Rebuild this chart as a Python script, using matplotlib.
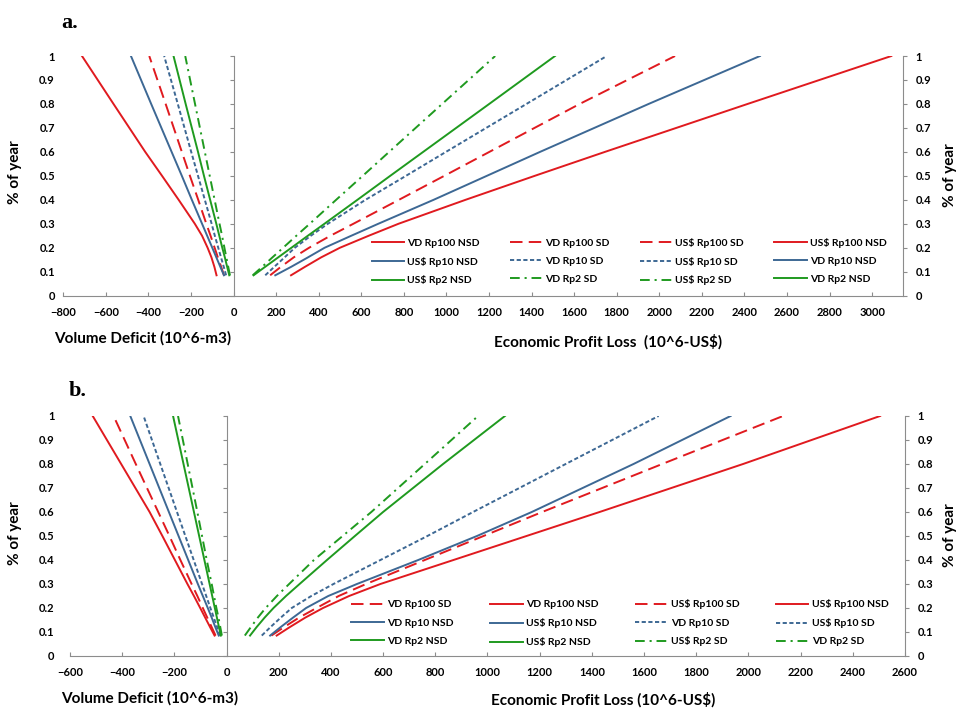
import matplotlib.pyplot as plt
from matplotlib.ticker import FuncFormatter

plt.rcParams['font.family'] = ['Lato', 'DejaVu Sans']
plt.rcParams['font.weight'] = 'bold'
plt.rcParams['lines.scale_dashes'] = False

# fraction of year (common y levels for every curve)
pct_year = [0.085, 0.12, 0.16, 0.2, 0.25, 0.3, 0.4, 0.5, 0.6, 0.8, 1.0]

# ---- panel a : volume deficit (10^6 m3), drawn negative
a_vd_rp100_nsd = [-80, -90, -104, -122, -148, -182, -258, -336, -415, -564, -712]
a_vd_rp100_sd = [-45, -58, -74, -89, -108, -128, -166, -205, -243, -319, -396]
a_vd_rp10_nsd = [-45, -62, -81, -100, -124, -148, -196, -243, -291, -387, -482]
a_vd_rp10_sd = [-35, -46, -59, -72, -88, -103, -135, -167, -199, -262, -326]
a_vd_rp2_nsd = [-20, -30, -41, -53, -67, -81, -110, -139, -167, -225, -282]
a_vd_rp2_sd = [-17, -25, -34, -43, -54, -66, -89, -112, -135, -181, -227]
# ---- panel a : economic profit loss (10^6 US$)
a_us_rp100_nsd = [270, 335, 412, 500, 635, 775, 1090, 1415, 1745, 2415, 3090]
a_us_rp100_sd = [172, 222, 283, 355, 455, 563, 777, 990, 1202, 1626, 2074]
a_us_rp10_nsd = [196, 270, 350, 428, 553, 680, 940, 1190, 1440, 1950, 2473]
a_us_rp10_sd = [149, 191, 240, 288, 363, 443, 620, 810, 998, 1376, 1753]
a_us_rp2_nsd = [94, 148, 210, 272, 349, 427, 582, 736, 891, 1201, 1510]
a_us_rp2_sd = [90, 134, 183, 233, 295, 358, 482, 607, 731, 980, 1229]

# ---- panel b : volume deficit
b_vd_rp100_nsd = [-46, -63, -82, -101, -125, -150, -198, -246, -295, -404, -513]
b_vd_rp100_sd = [-42, -57, -74, -91, -112, -134, -177, -219, -262, -348, -433]
b_vd_rp10_nsd = [-30, -43, -57, -72, -91, -110, -147, -184, -221, -295, -369]
b_vd_rp10_sd = [-25, -36, -49, -62, -78, -94, -126, -158, -190, -254, -318]
b_vd_rp2_nsd = [-22, -29, -37, -45, -55, -65, -85, -105, -125, -165, -205]
b_vd_rp2_sd = [-18, -24, -31, -39, -48, -57, -76, -94, -112, -149, -186]
# ---- panel b : economic profit loss
b_us_rp100_nsd = [192, 242, 302, 370, 470, 590, 870, 1150, 1430, 1980, 2505]
b_us_rp100_sd = [172, 220, 278, 345, 430, 535, 760, 985, 1210, 1670, 2133]
b_us_rp10_nsd = [167, 207, 255, 305, 390, 500, 735, 960, 1170, 1560, 1932]
b_us_rp10_sd = [135, 168, 208, 250, 325, 410, 590, 770, 945, 1300, 1656]
b_us_rp2_nsd = [90, 115, 146, 180, 228, 280, 385, 492, 600, 830, 1067]
b_us_rp2_sd = [70, 93, 120, 150, 193, 240, 335, 445, 555, 760, 964]

# legend layout, row by row as in the figure
a_legend_rows = [['VD Rp100 NSD', 'VD Rp100 SD', 'US$ Rp100 SD', 'US$ Rp100 NSD'],
                 ['US$ Rp10 NSD', 'VD Rp10 SD', 'US$ Rp10 SD', 'VD Rp10 NSD'],
                 ['US$ Rp2 NSD', 'VD Rp2 SD', 'US$ Rp2 SD', 'VD Rp2 NSD']]
b_legend_rows = [['VD Rp100 SD', 'VD Rp100 NSD', 'US$ Rp100 SD', 'US$ Rp100 NSD'],
                 ['VD Rp10 NSD', 'US$ Rp10 NSD', 'VD Rp10 SD', 'US$ Rp10 SD'],
                 ['VD Rp2 NSD', 'US$ Rp2 NSD', 'US$ Rp2 SD', 'VD Rp2 SD']]

RED = '#E01A1F'
BLUE = '#3D6894'
GREEN = '#1F9A1F'
AXC = '#8C8C8C'
colors = {'Rp100': RED, 'Rp10': BLUE, 'Rp2': GREEN}
styles = {'NSD': '-', 'SD100': (0, (9, 4.5)), 'SD10': (0, (3, 1.8)),
          'SD2': (0, (7, 3.5, 1.5, 3.5))}


def series_style(label):
    rp, sd = label.split()[1], label.split()[2]
    if sd == 'NSD':
        ls = styles['NSD']
    else:
        ls = styles['SD' + rp[2:]]
    return colors[rp], ls


def draw_panel(ax, data, legend_rows, xmin, xmax, xticks, ylab_pad, leg_anchor, colsp):
    handles = {}
    for label, xs in data.items():
        c, ls = series_style(label)
        ln, = ax.plot(xs, pct_year, color=c, linestyle=ls, lw=1.4)
        handles[label] = ln

    ax.set_xlim(xmin, xmax)
    ax.set_ylim(0, 1)
    ax.set_xticks(xticks)
    ax.set_yticks([i / 10 for i in range(11)])
    fmt = FuncFormatter(lambda v, p: f'{v:g}')
    ax.yaxis.set_major_formatter(fmt)
    for s in ['left', 'top', 'right']:
        ax.spines[s].set_visible(False)
    ax.spines['bottom'].set_color(AXC)
    ax.tick_params(axis='x', direction='in', length=3, color=AXC, pad=8,
                   labelsize=8)
    ax.tick_params(axis='y', length=0, pad=ylab_pad, labelsize=8)

    # vertical axis line at zero
    zero = ax.secondary_yaxis((0 - xmin) / (xmax - xmin))
    zero.set_yticks([i / 10 for i in range(11)])
    zero.tick_params(length=3, color=AXC, labelleft=False, labelright=False)
    zero.spines['left'].set_color(AXC)
    zero.spines['right'].set_color(AXC)

    right = ax.secondary_yaxis('right')
    right.set_yticks([i / 10 for i in range(11)])
    right.yaxis.set_major_formatter(fmt)
    right.tick_params(length=3, color=AXC, pad=6, labelsize=8)
    right.spines['right'].set_color(AXC)

    order = [legend_rows[r][c] for c in range(4) for r in range(3)]
    ax.legend([handles[k] for k in order], [k.replace('$', r'\$') for k in order],
              ncol=4, loc='center left', bbox_to_anchor=leg_anchor,
              frameon=False, fontsize=7.5, handlelength=3.1, handletextpad=0.3,
              columnspacing=colsp, labelspacing=0.85, borderpad=0, borderaxespad=0)


fig = plt.figure(figsize=(9.63, 7.09), dpi=100)

ax_a = fig.add_axes([0.0657, 0.583, 0.872, 0.338])
data_a = {
    'VD Rp100 NSD': a_vd_rp100_nsd, 'VD Rp100 SD': a_vd_rp100_sd,
    'VD Rp10 NSD': a_vd_rp10_nsd, 'VD Rp10 SD': a_vd_rp10_sd,
    'VD Rp2 NSD': a_vd_rp2_nsd, 'VD Rp2 SD': a_vd_rp2_sd,
    'US$ Rp100 NSD': a_us_rp100_nsd, 'US$ Rp100 SD': a_us_rp100_sd,
    'US$ Rp10 NSD': a_us_rp10_nsd, 'US$ Rp10 SD': a_us_rp10_sd,
    'US$ Rp2 NSD': a_us_rp2_nsd, 'US$ Rp2 SD': a_us_rp2_sd,
}
draw_panel(ax_a, data_a, a_legend_rows, -800, 3145, list(range(-800, 3001, 200)),
           6, (0.3676, 0.142), 2.9)

ax_b = fig.add_axes([0.0727, 0.0748, 0.867, 0.3385])
data_b = {
    'VD Rp100 NSD': b_vd_rp100_nsd, 'VD Rp100 SD': b_vd_rp100_sd,
    'VD Rp10 NSD': b_vd_rp10_nsd, 'VD Rp10 SD': b_vd_rp10_sd,
    'VD Rp2 NSD': b_vd_rp2_nsd, 'VD Rp2 SD': b_vd_rp2_sd,
    'US$ Rp100 NSD': b_us_rp100_nsd, 'US$ Rp100 SD': b_us_rp100_sd,
    'US$ Rp10 NSD': b_us_rp10_nsd, 'US$ Rp10 SD': b_us_rp10_sd,
    'US$ Rp2 NSD': b_us_rp2_nsd, 'US$ Rp2 SD': b_us_rp2_sd,
}
draw_panel(ax_b, data_b, b_legend_rows, -600, 2600, list(range(-600, 2601, 200)),
           11, (0.337, 0.136), 3.55)

# panel letters and axis titles
serif = dict(family='Liberation Serif', weight='bold', size=16)
fig.text(0.064, 0.967, 'a.', ha='left', va='center', **serif)
fig.text(0.071, 0.448, 'b.', ha='left', va='center', **serif)

lab = dict(size=11, weight='bold', ha='center', va='center')
for yy in (0.757, 0.248):
    fig.text(0.0156, yy, '% of year', rotation=90, **lab)
for yy in (0.753, 0.245):
    fig.text(0.9865, yy, '% of year', rotation=90, **lab)
fig.text(0.148, 0.523, 'Volume Deficit (10^6-m3)', **lab)
fig.text(0.155, 0.0155, 'Volume Deficit (10^6-m3)', **lab)
fig.text(0.631, 0.518, r'Economic Profit Loss  (10^6-US\$)', **lab)
fig.text(0.626, 0.0127, r'Economic Profit Loss (10^6-US\$)', **lab)

fig.savefig('out.png', dpi=100)
